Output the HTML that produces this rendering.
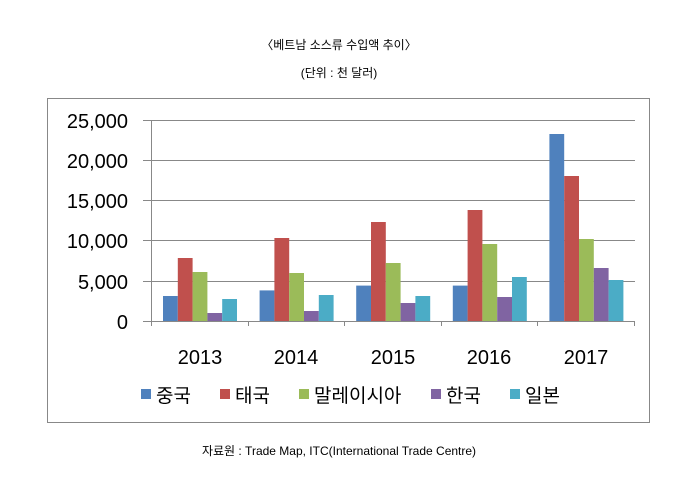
<!DOCTYPE html>
<html><head><meta charset="utf-8"><style>
body{margin:0;background:#fff;width:678px;height:482px;overflow:hidden}
text{font-family:"Liberation Sans","Noto Sans CJK KR",sans-serif}
</style></head><body>
<svg width="678" height="482" xmlns="http://www.w3.org/2000/svg">
<text x="339" y="49" font-size="12" text-anchor="middle" fill="#000">〈베트남 소스류 수입액 추이〉</text>
<text x="339" y="77" font-size="12" text-anchor="middle" fill="#000">(단위 : 천 달러)</text>
<rect x="47.5" y="98.5" width="602" height="324" fill="#fff" stroke="#888"/>
<g stroke="#888" stroke-width="1">
<line x1="143" y1="120.5" x2="635" y2="120.5"/>
<line x1="143" y1="160.5" x2="635" y2="160.5"/>
<line x1="143" y1="200.5" x2="635" y2="200.5"/>
<line x1="143" y1="240.5" x2="635" y2="240.5"/>
<line x1="143" y1="281.5" x2="635" y2="281.5"/>
</g>
<g>
<g fill="#4f81bd">
<rect x="163" y="296" width="14.8" height="25"/>
<rect x="259.6" y="290.4" width="14.8" height="30.6"/>
<rect x="356.2" y="285.6" width="14.8" height="35.4"/>
<rect x="452.8" y="285.6" width="14.8" height="35.4"/>
<rect x="549.4" y="134" width="14.8" height="187"/>
</g>
<g fill="#c0504d">
<rect x="177.8" y="258" width="14.8" height="63"/>
<rect x="274.4" y="238" width="14.8" height="83"/>
<rect x="371" y="222" width="14.8" height="99"/>
<rect x="467.6" y="210" width="14.8" height="111"/>
<rect x="564.2" y="176" width="14.8" height="145"/>
</g>
<g fill="#9bbb59">
<rect x="192.6" y="272" width="14.8" height="49"/>
<rect x="289.2" y="273" width="14.8" height="48"/>
<rect x="385.8" y="263" width="14.8" height="58"/>
<rect x="482.4" y="244" width="14.8" height="77"/>
<rect x="579" y="239" width="14.8" height="82"/>
</g>
<g fill="#8064a2">
<rect x="207.4" y="313" width="14.8" height="8"/>
<rect x="304" y="311" width="14.8" height="10"/>
<rect x="400.6" y="303" width="14.8" height="18"/>
<rect x="497.2" y="297" width="14.8" height="24"/>
<rect x="593.8" y="268" width="14.8" height="53"/>
</g>
<g fill="#4bacc6">
<rect x="222.2" y="299" width="14.8" height="22"/>
<rect x="318.8" y="295" width="14.8" height="26"/>
<rect x="415.4" y="296" width="14.8" height="25"/>
<rect x="512" y="277" width="14.8" height="44"/>
<rect x="608.6" y="280" width="14.8" height="41"/>
</g>
</g>
<g stroke="#888" stroke-width="1">
<line x1="143" y1="321.5" x2="635" y2="321.5"/>
<line x1="151.5" y1="120" x2="151.5" y2="326"/>
<line x1="248.5" y1="321" x2="248.5" y2="326"/>
<line x1="344.5" y1="321" x2="344.5" y2="326"/>
<line x1="441.5" y1="321" x2="441.5" y2="326"/>
<line x1="537.5" y1="321" x2="537.5" y2="326"/>
<line x1="634.5" y1="321" x2="634.5" y2="326"/>
</g>
<g font-size="20" text-anchor="end" fill="#000">
<text x="128" y="128">25,000</text>
<text x="128" y="168">20,000</text>
<text x="128" y="208">15,000</text>
<text x="128" y="248">10,000</text>
<text x="128" y="289">5,000</text>
<text x="128" y="329">0</text>
</g>
<g font-size="20" text-anchor="middle" fill="#000">
<text x="200" y="364">2013</text>
<text x="296" y="364">2014</text>
<text x="393" y="364">2015</text>
<text x="489" y="364">2016</text>
<text x="586" y="364">2017</text>
</g>
<g font-size="19" fill="#000">
<rect x="141" y="389" width="10" height="10" fill="#4f81bd"/><text x="156" y="402">중국</text>
<rect x="220" y="389" width="10" height="10" fill="#c0504d"/><text x="235" y="402">태국</text>
<rect x="299" y="389" width="10" height="10" fill="#9bbb59"/><text x="314" y="402">말레이시아</text>
<rect x="431" y="389" width="10" height="10" fill="#8064a2"/><text x="446" y="402">한국</text>
<rect x="510" y="389" width="10" height="10" fill="#4bacc6"/><text x="525" y="402">일본</text>
</g>
<text x="339" y="455" font-size="12" text-anchor="middle" fill="#000">자료원 : Trade Map, ITC(International Trade Centre)</text>
</svg>
</body></html>
